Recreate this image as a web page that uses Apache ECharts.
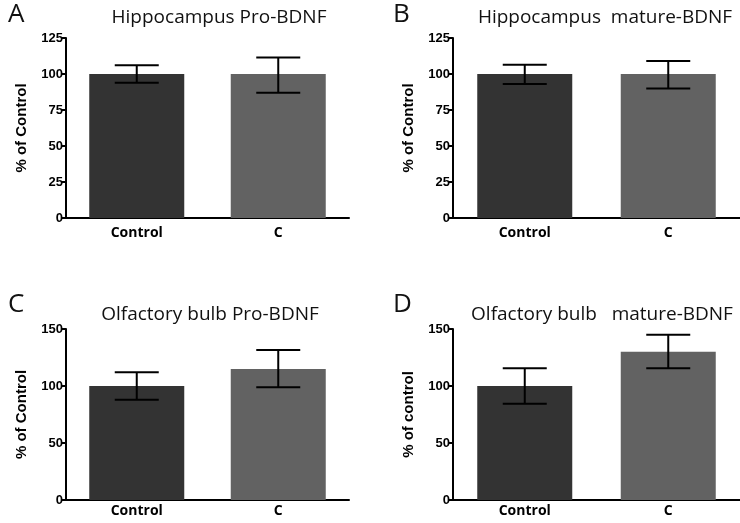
<!DOCTYPE html>
<html>
<head>
<meta charset="utf-8">
<script src="https://cdn.jsdelivr.net/npm/echarts@6/dist/echarts.min.js"></script>
<style>
  html, body { margin: 0; padding: 0; background: #fff; }
  #main { width: 740px; height: 523px; }
</style>
</head>
<body>
<div id="main"></div>
<script>
// groups on the x axis
var groups = ['Control', 'C'];

// mean % of control for each panel
var hipProMean = [100, 100];
var hipMatMean = [100, 100];
var olfProMean = [100, 115];
var olfMatMean = [100, 130];

// error bar ends [low, high]
var hipProErr = [[94, 106], [87, 111.5]];
var hipMatErr = [[93, 106.5], [90, 109]];
var olfProErr = [[88, 112], [99, 131.5]];
var olfMatErr = [[84.5, 115.5], [115.5, 145]];

var barColors = ['#333333', '#626262'];

var myChart = echarts.init(document.getElementById('main'));

// one grid per panel
var grids = [
  {left: 66, top: 38, width: 283, height: 180},
  {left: 453, top: 38, width: 287, height: 180},
  {left: 66, top: 329, width: 283, height: 171},
  {left: 453, top: 329, width: 287, height: 171}
];

var yMax = [125, 125, 150, 150];
var yStep = [25, 25, 50, 50];
var yNames = ['% of Control', '% of Control', '% of Control', '% of control'];
var labelGap = [8, 8, 4, 4];
var means = [hipProMean, hipMatMean, olfProMean, olfMatMean];
var errs = [hipProErr, hipMatErr, olfProErr, olfMatErr];

var xAxes = [], yAxes = [], series = [];
for (var i = 0; i < 4; i++) {
  xAxes.push({
    type: 'category',
    gridIndex: i,
    data: groups,
    axisLine: {lineStyle: {color: '#000', width: 2}},
    axisTick: {alignWithLabel: true, length: 5, lineStyle: {color: '#000', width: 2}},
    axisLabel: {color: '#000', fontFamily: 'Open Sans', fontWeight: 'bold', fontSize: 14, margin: labelGap[i]}
  });
  yAxes.push({
    type: 'value',
    gridIndex: i,
    min: 0,
    max: yMax[i],
    interval: yStep[i],
    name: yNames[i],
    nameLocation: 'middle',
    nameGap: 37,
    nameTextStyle: {color: '#000', fontFamily: 'Liberation Sans', fontWeight: 'bold', fontSize: 15},
    splitLine: {show: false},
    axisLine: {show: true, lineStyle: {color: '#000', width: 2}},
    axisTick: {show: true, length: 5, lineStyle: {color: '#000', width: 2}},
    axisLabel: {color: '#000', fontFamily: 'Liberation Sans', fontWeight: 'bold', fontSize: 13, margin: 3}
  });
  series.push({
    type: 'bar',
    xAxisIndex: i,
    yAxisIndex: i,
    barWidth: 95,
    data: means[i].map(function (v, k) {
      return {value: v, itemStyle: {color: barColors[k]}};
    })
  });
  series.push({
    type: 'custom',
    xAxisIndex: i,
    yAxisIndex: i,
    z: 5,
    data: errs[i].map(function (e, k) { return [k, e[0], e[1]]; }),
    renderItem: function (params, api) {
      var lo = api.coord([api.value(0), api.value(1)]);
      var hi = api.coord([api.value(0), api.value(2)]);
      var w = 22;
      var st = {stroke: '#000', lineWidth: 2};
      return {
        type: 'group',
        children: [
          {type: 'line', shape: {x1: lo[0], y1: lo[1], x2: hi[0], y2: hi[1]}, style: st},
          {type: 'line', shape: {x1: lo[0] - w, y1: lo[1], x2: lo[0] + w, y2: lo[1]}, style: st},
          {type: 'line', shape: {x1: hi[0] - w, y1: hi[1], x2: hi[0] + w, y2: hi[1]}, style: st}
        ]
      };
    }
  });
}

var titleFont = {color: '#111', fontFamily: 'Open Sans', fontWeight: 'normal', fontSize: 19};
var letterFont = {color: '#111', fontFamily: 'Open Sans', fontWeight: 'normal', fontSize: 26};

var option = {
  animation: false,
  title: [
    {text: 'Hippocampus Pro-BDNF', left: 214, top: 3, textAlign: 'center', textStyle: titleFont},
    {text: 'Hippocampus  mature-BDNF', left: 600, top: 3, textAlign: 'center', textStyle: titleFont},
    {text: 'Olfactory bulb Pro-BDNF', left: 205, top: 300, textAlign: 'center', textStyle: titleFont},
    {text: 'Olfactory bulb   mature-BDNF', left: 597, top: 300, textAlign: 'center', textStyle: titleFont},
    {text: 'A', left: 3, top: -3, textStyle: letterFont},
    {text: 'B', left: 388, top: -3, textStyle: letterFont},
    {text: 'C', left: 3, top: 287, textStyle: letterFont},
    {text: 'D', left: 388, top: 287, textStyle: letterFont}
  ],
  grid: grids,
  xAxis: xAxes,
  yAxis: yAxes,
  series: series
};

myChart.setOption(option);
</script>
</body>
</html>
